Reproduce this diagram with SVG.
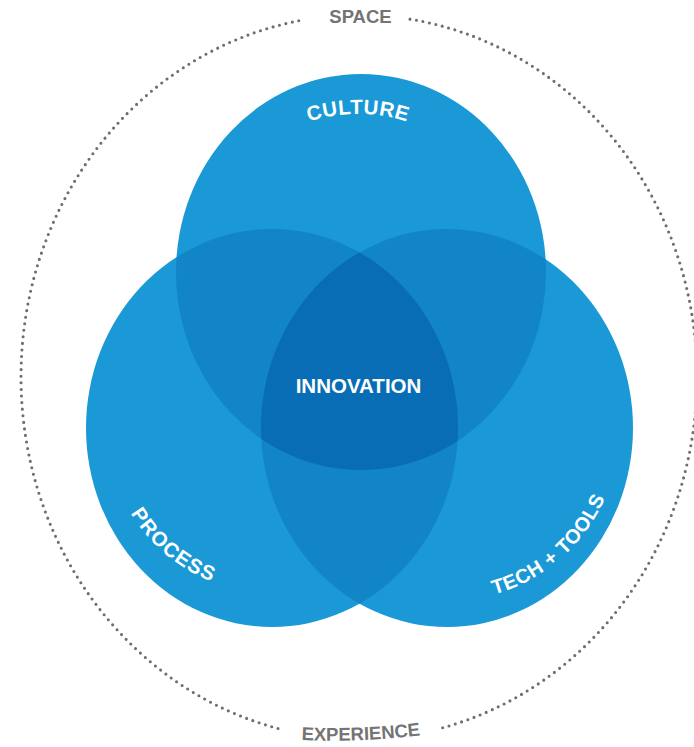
<svg xmlns="http://www.w3.org/2000/svg" width="694" height="747" viewBox="0 0 694 747">
<style>
.lbl{font-family:"Liberation Sans",Arial,sans-serif;font-weight:bold;}
.in{fill:#ffffff;font-size:20.5px;letter-spacing:0.5px;}
.out{fill:#747474;font-size:18.5px;}
.c1{fill:#1a99d6;}
.c2{fill:#1285c7;}
.c3{fill:#096db5;}
.ring{fill:none;stroke:#6e6e6e;stroke-width:3.1;stroke-linecap:round;stroke-dasharray:0 6.6;}
</style>
<defs>
<ellipse id="eA" cx="361" cy="272" rx="185" ry="198"/>
<ellipse id="eB" cx="272" cy="428" rx="186" ry="199"/>
<ellipse id="eC" cx="447" cy="428" rx="186" ry="199"/>
<clipPath id="cA"><use href="#eA"/></clipPath>
<clipPath id="cB"><use href="#eB"/></clipPath>
<path id="pCulture" d="M209.5,218 A158,158 0 0 1 506.5,218"/>
<path id="pProcess" d="M109.5,399.4 A165,165 0 0 0 328.4,583.1"/>
<path id="pTech" d="M390.7,591.6 A173,173 0 0 0 616.8,395"/>
<path id="pExp" d="M290,739.5 Q360,743.5 432,734"/>
</defs>
<rect width="694" height="747" fill="#ffffff"/>
<g id="frame">
<path class="ring" d="M410,19.15 A338,362 0 0 1 441,728.18"/>
<path class="ring" d="M278,728.45 A338,362 0 0 1 305,19.65"/>
<text class="lbl out" x="360.5" y="23.3" text-anchor="middle">SPACE</text>
<text class="lbl out"><textPath href="#pExp" startOffset="50%" text-anchor="middle">EXPERIENCE</textPath></text>
</g>
<g id="node-culture"><use href="#eA" class="c1"/></g>
<g id="node-process"><use href="#eB" class="c1"/></g>
<g id="node-tech"><use href="#eC" class="c1"/></g>
<g id="overlaps">
<g clip-path="url(#cA)"><use href="#eB" class="c2"/><use href="#eC" class="c2"/></g>
<g clip-path="url(#cB)"><use href="#eC" class="c2"/></g>
</g>
<g id="node-innovation">
<g clip-path="url(#cA)"><g clip-path="url(#cB)"><use href="#eC" class="c3"/></g></g>
<text class="lbl" x="358.5" y="393" text-anchor="middle" fill="#ffffff" font-size="20.5">INNOVATION</text>
</g>
<g id="labels">
<text class="lbl in"><textPath href="#pCulture" startOffset="50%" text-anchor="middle">CULTURE</textPath></text>
<text class="lbl in" style="letter-spacing:1.2px"><textPath href="#pProcess" startOffset="50%" text-anchor="middle">PROCESS</textPath></text>
<text class="lbl in" style="font-size:20px"><textPath href="#pTech" startOffset="50%" text-anchor="middle">TECH + TOOLS</textPath></text>
</g>
</svg>
